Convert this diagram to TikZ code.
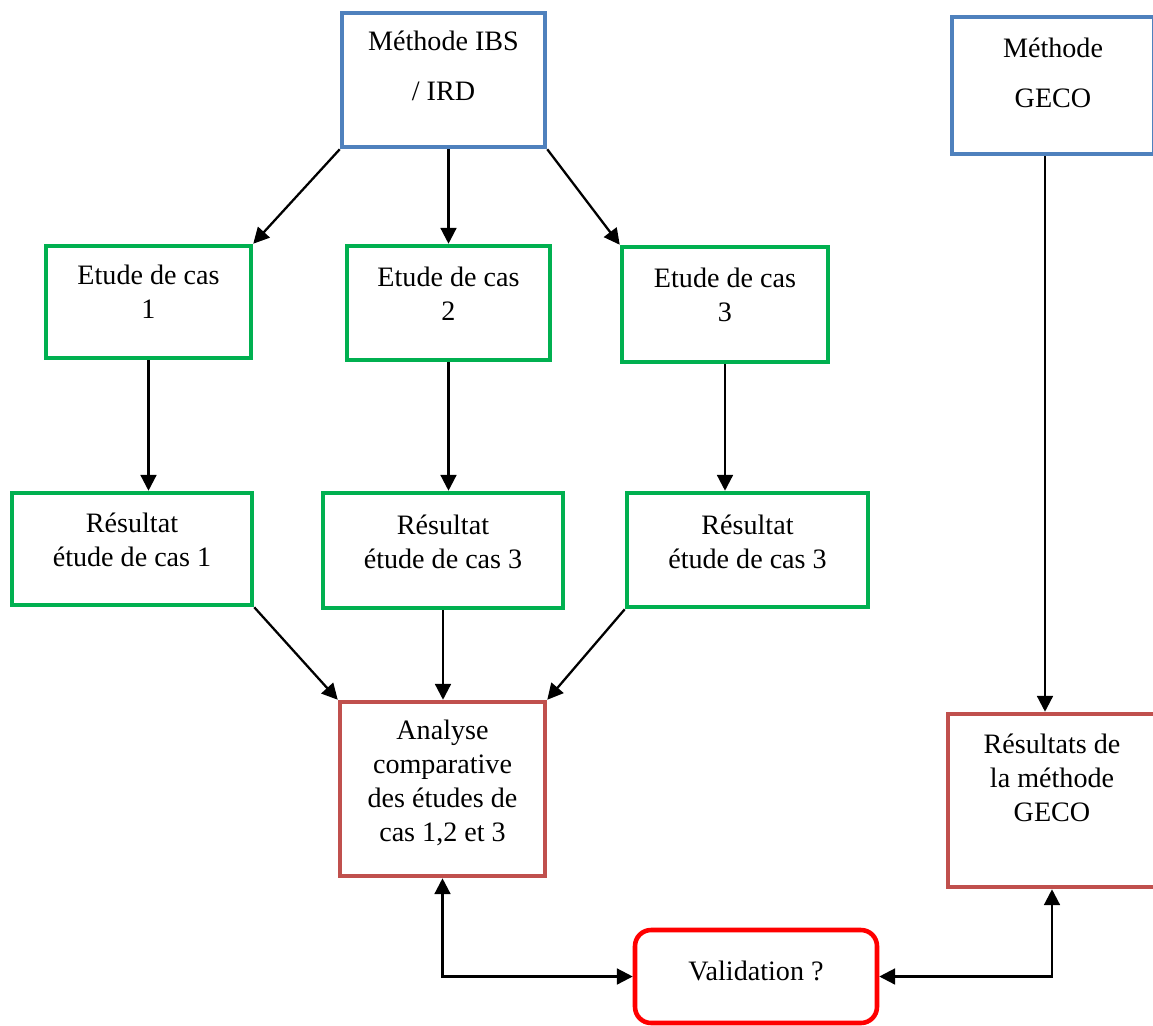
\documentclass[tikz,border=0pt]{standalone}
\usepackage{fontspec}
\setmainfont{Liberation Serif}
\usepackage{tikz}
\usetikzlibrary{arrows.meta,positioning,calc}

\definecolor{methblue}{RGB}{79,129,189}
\definecolor{casegreen}{RGB}{0,176,80}
\definecolor{resbrown}{RGB}{192,80,77}
\definecolor{valred}{RGB}{255,0,0}

\begin{document}
\begin{tikzpicture}[
  x=0.02cm, y=-0.02cm,
  font=\fontsize{16}{19.3}\selectfont,
  methbox/.style={draw=methblue, line width=2.6pt},
  casebox/.style={draw=casegreen, line width=2.6pt},
  resbox/.style={draw=resbrown, line width=2.6pt},
  valbox/.style={draw=valred, line width=2.6pt, rounded corners=0.32cm},
  txt/.style={align=center, inner sep=0pt},
  arr/.style={-{Triangle[length=9pt,width=9pt]}, line width=1.3pt},
  dbl/.style={{Triangle[length=9pt,width=9pt]}-{Triangle[length=9pt,width=9pt]}, line width=1.3pt}
]
  \useasboundingbox (0,0) rectangle (1153,1025);

  % methodes
  \node[methbox, minimum width=4.06cm, minimum height=2.68cm] (ibs) at (443.5,80) {};
  \node[txt] (ibsT) at (443.5,66) {Méthode IBS\\[9pt]/ IRD};
  \node[methbox, minimum width=4.04cm, minimum height=2.74cm] (geco) at (1053,85.5) {};
  \node[txt] (gecoT) at (1053,73) {Méthode\\[9pt]GECO};

  % etudes de cas
  \node[casebox, minimum width=4.1cm, minimum height=2.24cm] (e1) at (148.5,302) {};
  \node[txt] (e1T) at (148.5,292) {Etude de cas\\1};
  \node[casebox, minimum width=4.06cm, minimum height=2.28cm] (e2) at (448.5,303) {};
  \node[txt] (e2T) at (448.5,294) {Etude de cas\\2};
  \node[casebox, minimum width=4.12cm, minimum height=2.3cm] (e3) at (725,304.5) {};
  \node[txt] (e3T) at (725,295) {Etude de cas\\3};

  % resultats
  \node[casebox, minimum width=4.8cm, minimum height=2.24cm] (r1) at (132,549) {};
  \node[txt] (r1T) at (132,540) {Résultat\\étude de cas 1};
  \node[casebox, minimum width=4.8cm, minimum height=2.3cm] (r2) at (443,550.5) {};
  \node[txt] (r2T) at (443,542) {Résultat\\étude de cas 3};
  \node[casebox, minimum width=4.82cm, minimum height=2.28cm] (r3) at (747.5,550) {};
  \node[txt] (r3T) at (747.5,542) {Résultat\\étude de cas 3};

  % analyse, geco, validation
  \node[resbox, minimum width=4.1cm, minimum height=3.48cm] (ana) at (442.5,789) {};
  \node[txt] (anaT) at (442.5,783) {Analyse\\comparative\\des études de\\cas 1,2 et 3};
  \node[resbox, minimum width=4.16cm, minimum height=3.46cm] (rgeco) at (1052,800.5) {};
  \node[txt] (rgecoT) at (1052,778) {Résultats de\\la méthode\\GECO};
  \node[valbox, minimum width=4.84cm, minimum height=1.86cm] (val) at (756,976.5) {};
  \node[txt] (valT) at (756,971) {Validation ?};

  \draw[arr] (ibs.south west) -- (e1.north east);
  \draw[arr] (e2.north |- ibs.south) -- (e2.north);
  \draw[arr] (ibs.south east) -- (e3.north west);
  \draw[arr] (e1.south) -- (e1.south |- r1.north);
  \draw[arr] (e2.south) -- (e2.south |- r2.north);
  \draw[arr] (e3.south) -- (e3.south |- r3.north);
  \draw[arr] (r1.south east) -- (ana.north west);
  \draw[arr] (r2.south) -- (r2.south |- ana.north);
  \draw[arr] (r3.south west) -- (ana.north east);
  \draw[arr] ($(geco.south)+(-8,0)$) -- ($(geco.south |- rgeco.north)+(-8,0)$);
  \draw[dbl] (ana.south) |- (val.west);
  \draw[dbl] (rgeco.south) |- (val.east);
\end{tikzpicture}
\end{document}
